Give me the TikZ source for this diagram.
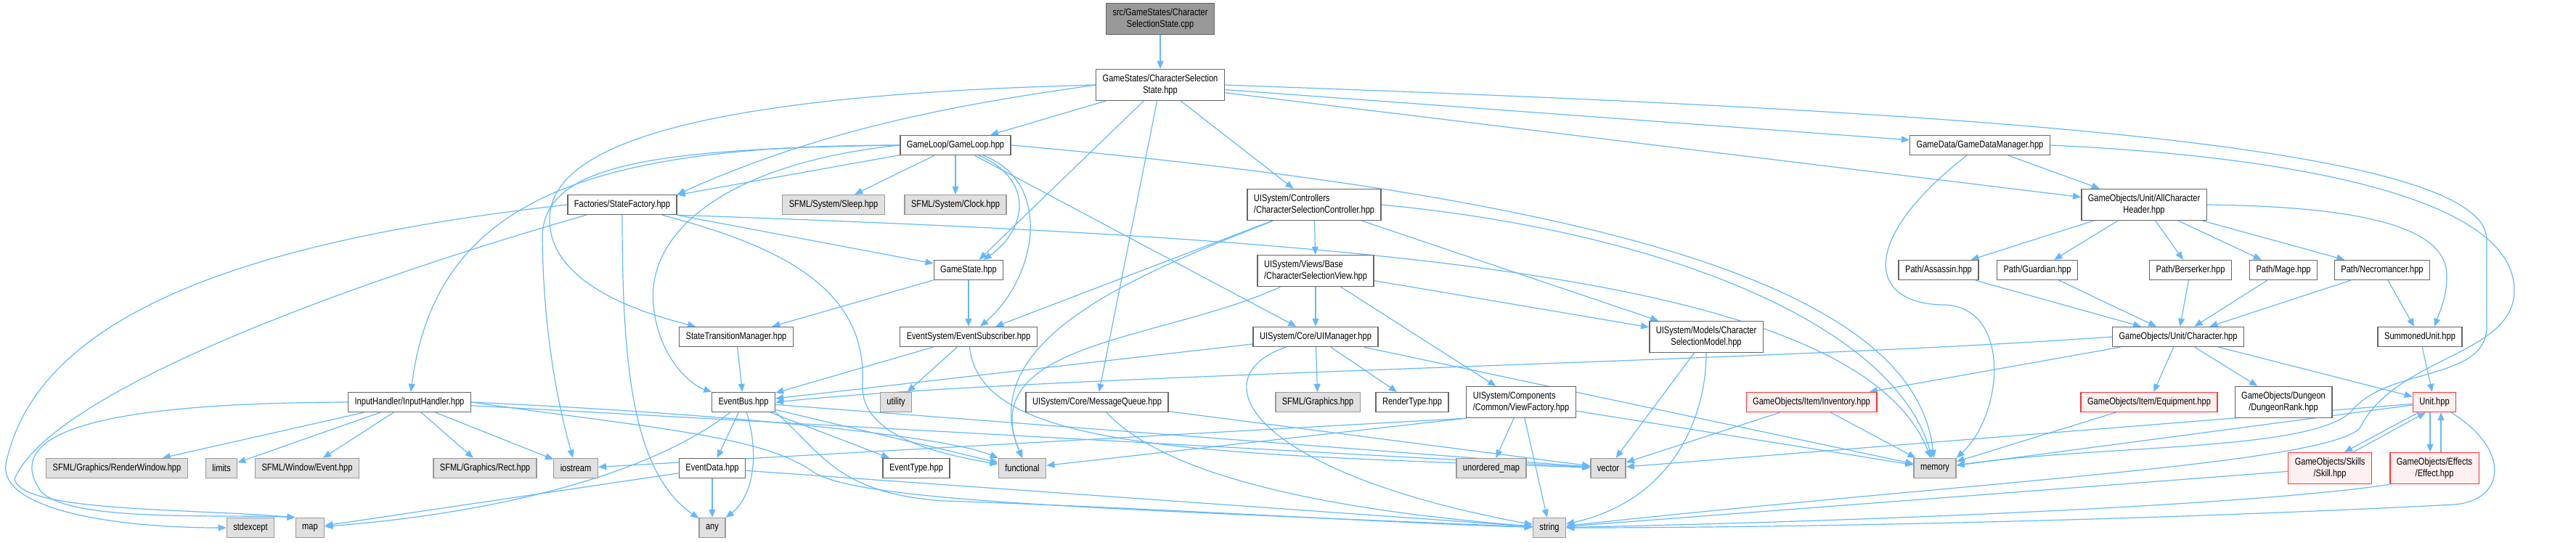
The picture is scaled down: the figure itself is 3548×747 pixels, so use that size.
\documentclass[tikz,border=0pt]{standalone}
\usepackage{fontspec}
\setmainfont{Liberation Sans}[FakeStretch=0.82]
\usetikzlibrary{arrows.meta,backgrounds}
\usepackage{xcolor}
\definecolor{edgeblue}{HTML}{63B8FF}
\definecolor{boxline}{HTML}{666666}
\definecolor{sysfill}{HTML}{E0E0E0}
\definecolor{sysline}{HTML}{999999}
\definecolor{badfill}{HTML}{FFF0F0}
\definecolor{badline}{HTML}{FF3333}
\definecolor{rootfill}{HTML}{999999}
\newcommand{\dxfont}{\fontsize{13.5}{16}\selectfont}

\tikzset{
  hdr/.style={draw=boxline,fill=white,line width=1.4pt,inner xsep=9pt,inner ysep=0pt,minimum height=27pt,font=\dxfont},
  sys/.style={hdr,draw=sysline,fill=sysfill},
  bad/.style={hdr,draw=badline,fill=badfill},
  rootbox/.style={hdr,fill=rootfill},
  two/.style={minimum height=43pt,align=center},
  twoleft/.style={minimum height=43pt,align=left},
  dep/.style={draw=edgeblue,line width=1.2pt,-{Triangle[length=11pt,width=9pt]}}
}

\begin{document}
\begin{tikzpicture}[x=1pt,y=-1pt]
\useasboundingbox (0,0) rectangle (3548,747);

% source file and its header
\node[rootbox,two] (root) at (1598,26) {src/GameStates/Character\\SelectionState.cpp};
\node[hdr,two] (css) at (1598,117) {GameStates/CharacterSelection\\State.hpp};

% rows of included headers
\node[hdr] (gameloop) at (1316,200) {GameLoop/GameLoop.hpp};
\node[hdr] (gamedata) at (2727,200) {GameData/GameDataManager.hpp};

\node[hdr] (factory) at (857,282) {Factories/StateFactory.hpp};
\node[sys] (sleep) at (1148,282) {SFML/System/Sleep.hpp};
\node[sys] (clock) at (1316,282) {SFML/System/Clock.hpp};
\node[hdr,twoleft] (ctrl) at (1810,282) {UISystem/Controllers\\/CharacterSelectionController.hpp};
\node[hdr,two] (allchar) at (2953,282) {GameObjects/Unit/AllCharacter\\Header.hpp};

\node[hdr] (gamestate) at (1334,372) {GameState.hpp};
\node[hdr,twoleft] (view) at (1812,373) {UISystem/Views/Base\\/CharacterSelectionView.hpp};
\node[hdr] (assassin) at (2670,372) {Path/Assassin.hpp};
\node[hdr] (guardian) at (2806,372) {Path/Guardian.hpp};
\node[hdr] (berserker) at (3017,372) {Path/Berserker.hpp};
\node[hdr] (mage) at (3145,372) {Path/Mage.hpp};
\node[hdr] (necro) at (3281,372) {Path/Necromancer.hpp};

\node[hdr] (stm) at (1014,464) {StateTransitionManager.hpp};
\node[hdr] (subscriber) at (1334,464) {EventSystem/EventSubscriber.hpp};
\node[hdr] (uimgr) at (1812,464) {UISystem/Core/UIManager.hpp};
\node[hdr,two] (model) at (2350,464) {UISystem/Models/Character\\SelectionModel.hpp};
\node[hdr] (character) at (3000,464) {GameObjects/Unit/Character.hpp};
\node[hdr] (summoned) at (3333,464) {SummonedUnit.hpp};

\node[hdr] (input) at (564,554) {InputHandler/InputHandler.hpp};
\node[hdr] (eventbus) at (1024,554) {EventBus.hpp};
\node[sys] (utility) at (1234,554) {utility};
\node[hdr] (msgq) at (1511,554) {UISystem/Core/MessageQueue.hpp};
\node[sys] (sfgfx) at (1815,554) {SFML/Graphics.hpp};
\node[hdr] (rendertype) at (1945,554) {RenderType.hpp};
\node[hdr,twoleft] (viewfac) at (2095,554) {UISystem/Components\\/Common/ViewFactory.hpp};
\node[bad] (inventory) at (2495,554) {GameObjects/Item/Inventory.hpp};
\node[bad] (equipment) at (2960,554) {GameObjects/Item/Equipment.hpp};
\node[hdr,two] (dungeon) at (3145,554) {GameObjects/Dungeon\\/DungeonRank.hpp};
\node[bad] (unit) at (3353,554) {Unit.hpp};

\node[sys] (renderwin) at (161,645) {SFML/Graphics/RenderWindow.hpp};
\node[sys] (limits) at (305,645) {limits};
\node[sys] (sfevent) at (423,645) {SFML/Window/Event.hpp};
\node[sys] (rect) at (668,645) {SFML/Graphics/Rect.hpp};
\node[sys] (iostream) at (793,645) {iostream};
\node[hdr] (eventdata) at (981,645) {EventData.hpp};
\node[hdr] (eventtype) at (1262,645) {EventType.hpp};
\node[sys] (functional) at (1408,645) {functional};
\node[sys] (umap) at (2054,645) {unordered\_map};
\node[sys] (vector) at (2215,645) {vector};
\node[sys] (memory) at (2665,645) {memory};
\node[bad,two] (skill) at (3209,645) {GameObjects/Skills\\/Skill.hpp};
\node[bad,two] (effect) at (3353,645) {GameObjects/Effects\\/Effect.hpp};

\node[sys] (stdexcept) at (345,727) {stdexcept};
\node[sys] (map) at (427,727) {map};
\node[sys] (any) at (981,727) {any};
\node[sys] (string) at (2134,727) {string};

\begin{scope}[on background layer]
% straight includes
\foreach \a/\b in {root/css, css/gameloop, css/gamestate, css/ctrl, css/msgq, css/gamedata, css/allchar,
    gameloop/factory, gameloop/sleep, gameloop/clock, gameloop/uimgr,
    factory/gamestate, gamestate/stm, gamestate/subscriber,
    ctrl/view, ctrl/model, ctrl/subscriber, view/uimgr, view/viewfac, view/model,
    stm/eventbus, subscriber/eventbus, subscriber/utility,
    uimgr/sfgfx, uimgr/rendertype, uimgr/eventbus, uimgr/memory,
    model/vector, msgq/vector, viewfac/umap, viewfac/string, viewfac/memory,
    gamedata/allchar, allchar/assassin, allchar/guardian, allchar/berserker, allchar/mage, allchar/necro,
    assassin/character, guardian/character, berserker/character, mage/character, necro/character, necro/summoned,
    character/inventory, character/equipment, character/dungeon, character/unit, summoned/unit,
    inventory/memory, inventory/vector, equipment/memory, unit/memory, unit/vector,
    input/renderwin, input/limits, input/sfevent, input/rect, input/iostream, input/vector,
    eventbus/eventdata, eventbus/eventtype, eventbus/functional, eventbus/vector,
    eventdata/any, eventdata/map, eventdata/string, skill/string}
  \draw[dep] (\a) -- (\b);

\draw[dep] (viewfac.south west) -- (iostream);
\draw[dep] (viewfac.south west) -- (functional);

% routed includes
\draw[dep] (css.west) .. controls (1350,140) and (1150,170) .. (factory.north east);
\draw[dep] (css.west) .. controls (1000,130) and (760,190) .. (757,300) .. controls (755,390) and (880,430) .. (stm);
\draw[dep] (css.east) .. controls (2600,150) and (3425,190) .. (3425,330) -- (3425,450)
  .. controls (3425,525) and (3290,505) .. (3240,565) .. controls (3190,622) and (2900,612) .. (memory);
\draw[dep] (gamedata.east) .. controls (3150,215) and (3463,270) .. (3463,400)
  .. controls (3463,490) and (3300,490) .. (3250,590) .. controls (3200,640) and (2700,665) .. (string);
\draw[dep] (gamedata) .. controls (2560,330) and (2570,420) .. (2680,420) .. controls (2770,425) and (2760,570) .. (memory.north east);
\draw[dep] (allchar.east) .. controls (3280,285) and (3370,320) .. (3370,380) .. controls (3370,410) and (3360,430) .. ([xshift=20pt]summoned.north);

\draw[dep] (gameloop) .. controls (1430,250) and (1410,320) .. (gamestate);
\draw[dep] (gameloop) .. controls (1450,250) and (1430,380) .. (subscriber);
\draw[dep] (gameloop.west) .. controls (800,200) and (600,280) .. (input);
\draw[dep] (gameloop.west) .. controls (900,205) and (745,225) .. (747,330) .. controls (749,480) and (775,580) .. (iostream);
\draw[dep] (gameloop.west) .. controls (1000,225) and (890,320) .. (900,420) .. controls (906,490) and (950,530) .. (eventbus);
\draw[dep] (gameloop.east) .. controls (2300,280) and (2640,420) .. (memory);

\draw[dep] (factory.west) .. controls (350,330) and (50,430) .. (8,640) .. controls (0,700) and (150,727) .. (stdexcept);
\draw[dep] (factory) .. controls (480,390) and (70,540) .. (20,660) .. controls (30,705) and (250,700) .. (map.north west);
\draw[dep] (factory.south) .. controls (857,500) and (870,650) .. (any);
\draw[dep] (factory) .. controls (1080,340) and (1195,400) .. (1188,530) .. controls (1185,600) and (1290,625) .. (functional);
\draw[dep] (factory.south east) .. controls (1900,330) and (2560,380) .. (memory);

\draw[dep] (ctrl.east) .. controls (2300,320) and (2610,450) .. (memory);
\draw[dep] (ctrl) .. controls (1560,380) and (1340,470) .. (functional.north);
\draw[dep] (view) .. controls (1600,470) and (1340,470) .. (functional.north);
\draw[dep] (subscriber) .. controls (1350,620) and (1650,625) .. (vector);

\draw[dep] (input.west) .. controls (120,555) and (5,600) .. (55,675) .. controls (90,720) and (300,708) .. (map.north west);
\draw[dep] (input.east) .. controls (1000,570) and (1300,600) .. (functional.north west);
\draw[dep] (input.east) .. controls (900,590) and (1050,600) .. (1120,650) .. controls (1180,690) and (1500,700) .. (string);

\draw[dep] (eventbus) .. controls (1050,640) and (1030,690) .. (any);
\draw[dep] (eventbus) .. controls (900,650) and (700,705) .. (map);
\draw[dep] (eventbus.south east) .. controls (1130,620) and (1150,680) .. (1300,690) .. controls (1600,700) and (1900,720) .. (string);

\draw[dep] (msgq) .. controls (1600,650) and (1800,700) .. (string);
\draw[dep] (uimgr) .. controls (1650,520) and (1720,650) .. (string);
\draw[dep] (model) .. controls (2350,580) and (2300,690) .. (string);

\draw[dep] (character.west) .. controls (2400,500) and (1450,515) .. (eventbus.east);

\draw[dep] (unit) .. controls (3460,620) and (3450,690) .. (3380,695) .. controls (3000,715) and (2500,727) .. (string);
\draw[dep] (effect.south west) .. controls (3150,690) and (2700,715) .. (string);
\draw[dep] ([xshift=-22pt]unit.south) -- ([xshift=20pt]skill.north);
\draw[dep] ([xshift=32pt]skill.north) -- ([xshift=-12pt]unit.south);
\draw[dep] ([xshift=-6pt]unit.south) -- ([xshift=-6pt]effect.north);
\draw[dep] ([xshift=9pt]effect.north) -- ([xshift=9pt]unit.south);
\end{scope}
\end{tikzpicture}
\end{document}
